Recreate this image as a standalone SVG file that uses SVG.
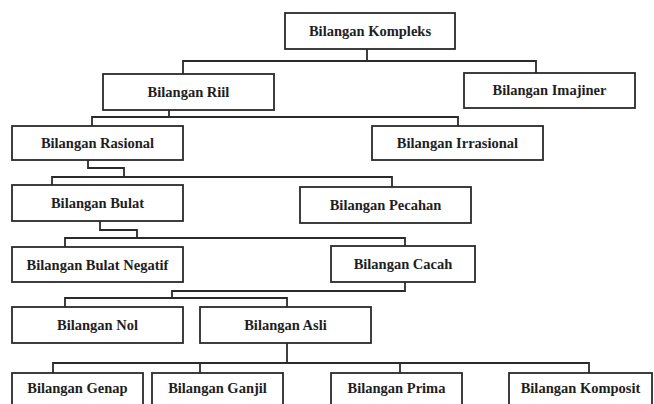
<svg xmlns="http://www.w3.org/2000/svg" width="654" height="404" viewBox="0 0 654 404">
<style>
.box{fill:#ffffff;stroke:#2a2a2a;stroke-width:1.8}
.lbl{font-family:"Liberation Serif","Times New Roman",serif;font-weight:bold;font-size:14.5px;fill:#1e1e1e;text-anchor:middle}
.con{fill:none;stroke:#2a2a2a;stroke-width:1.8}
</style>
<rect width="654" height="404" fill="#ffffff"/>
<g id="connectors">
<polyline class="con" points="367,49 367,61"/>
<polyline class="con" points="183,74 183,61 536,61 536,73"/>
<polyline class="con" points="169,110 169,117"/>
<polyline class="con" points="92,126 92,117 458,117 458,126"/>
<polyline class="con" points="88,160 88,168 124,168 124,177"/>
<polyline class="con" points="52,185 52,177 392,177 392,187"/>
<polyline class="con" points="100,221 100,230 137,230 137,238"/>
<polyline class="con" points="65,247 65,238 405,238 405,246"/>
<polyline class="con" points="405,282 405,291 172,291 172,298"/>
<polyline class="con" points="65,307 65,298 287,298 287,307"/>
<polyline class="con" points="287,343 287,363"/>
<polyline class="con" points="53,373 53,363 589,363 589,373"/>
<polyline class="con" points="200,363 200,373"/>
<polyline class="con" points="400,363 400,373"/>
</g>
<g id="kompleks"><rect class="box" x="285" y="13" width="170" height="36"/><text class="lbl" x="370" y="36">Bilangan Kompleks</text></g>
<g id="riil"><rect class="box" x="103" y="74" width="171" height="36"/><text class="lbl" x="188.5" y="97">Bilangan Riil</text></g>
<g id="imajiner"><rect class="box" x="464" y="73" width="171" height="35"/><text class="lbl" x="549.5" y="95">Bilangan Imajiner</text></g>
<g id="rasional"><rect class="box" x="12" y="126" width="171" height="34"/><text class="lbl" x="97.5" y="148">Bilangan Rasional</text></g>
<g id="irrasional"><rect class="box" x="372" y="126" width="171" height="34"/><text class="lbl" x="457.5" y="148">Bilangan Irrasional</text></g>
<g id="bulat"><rect class="box" x="12" y="185" width="171" height="36"/><text class="lbl" x="97.5" y="208">Bilangan Bulat</text></g>
<g id="pecahan"><rect class="box" x="300" y="187" width="171" height="36"/><text class="lbl" x="385.5" y="210">Bilangan Pecahan</text></g>
<g id="bulat-negatif"><rect class="box" x="12" y="247" width="171" height="35"/><text class="lbl" x="97.5" y="269.5">Bilangan Bulat Negatif</text></g>
<g id="cacah"><rect class="box" x="331" y="246" width="144" height="36"/><text class="lbl" x="403" y="269">Bilangan Cacah</text></g>
<g id="nol"><rect class="box" x="12" y="307" width="171" height="36"/><text class="lbl" x="97.5" y="330">Bilangan Nol</text></g>
<g id="asli"><rect class="box" x="200" y="307" width="171" height="36"/><text class="lbl" x="285.5" y="330">Bilangan Asli</text></g>
<g id="genap"><rect class="box" x="12" y="373" width="131" height="36"/><text class="lbl" x="77.5" y="393">Bilangan Genap</text></g>
<g id="ganjil"><rect class="box" x="152" y="373" width="131" height="36"/><text class="lbl" x="217.5" y="393">Bilangan Ganjil</text></g>
<g id="prima"><rect class="box" x="331" y="373" width="131" height="36"/><text class="lbl" x="396.5" y="393">Bilangan Prima</text></g>
<g id="komposit"><rect class="box" x="509" y="373" width="143" height="36"/><text class="lbl" x="580.5" y="393">Bilangan Komposit</text></g>
</svg>
